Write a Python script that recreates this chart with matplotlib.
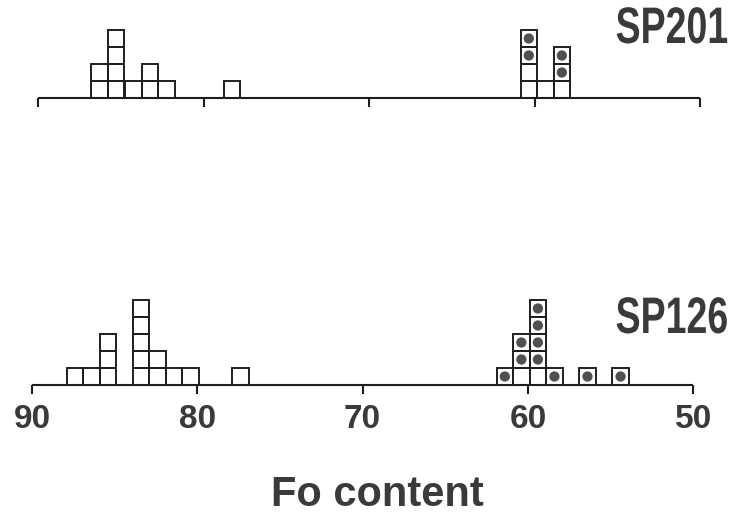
import matplotlib
matplotlib.use("Agg")
import matplotlib.pyplot as plt
from matplotlib import font_manager as fm
from matplotlib.patheffects import AbstractPathEffect
from matplotlib.transforms import Affine2D

# ---------------- data ----------------
# SP201 (top panel): bin centres (Fo) with counts of open / dotted boxes
sp201_fo = [86.3, 85.3, 84.25, 83.25, 82.25, 78.3, 60.35, 59.35, 58.35]
sp201_open = [2, 4, 1, 2, 1, 1, 2, 1, 1]
sp201_dot = [0, 0, 0, 0, 0, 0, 2, 0, 2]

# SP126 (bottom panel)
sp126_fo = [87.4, 86.4, 85.4, 83.4, 82.4, 81.4, 80.4, 77.4,
            61.4, 60.4, 59.4, 58.4, 56.4, 54.4]
sp126_open = [1, 1, 3, 5, 2, 1, 1, 1, 0, 1, 1, 0, 0, 0]
sp126_dot = [0, 0, 0, 0, 0, 0, 0, 0, 1, 2, 4, 1, 1, 1]

tick_values = [90, 80, 70, 60, 50]
tick_labels = ["90", "80", "70", "60", "50"]
xlabel = "Fo content"
titles = ["SP201", "SP126"]


def pick(fams, weight="bold"):
    for f in fams:
        try:
            fm.findfont(fm.FontProperties(family=f, weight=weight),
                        fallback_to_default=False)
            return f
        except Exception:
            pass
    return "DejaVu Sans"


sans = pick(["Liberation Sans", "DejaVu Sans"])


class Condense(AbstractPathEffect):
    """Squeeze glyphs horizontally about a pivot x (display pixels)."""

    def __init__(self, sx, x0):
        super().__init__()
        self.sx = sx
        self.x0 = x0

    def draw_path(self, renderer, gc, tpath, affine, rgbFace=None):
        a = affine + Affine2D().translate(-self.x0, 0).scale(self.sx, 1).translate(self.x0, 0)
        renderer.draw_path(gc, tpath, a, rgbFace)


W, H = 734, 515
fig = plt.figure(figsize=(W / 100, H / 100), dpi=100)
fig.patch.set_facecolor("white")

INK = "#1e1e1e"
TXT = "#3a3a3a"
DOT = "#505050"
BOX_PX = 17.0  # box height in pixels


def make_axes(x0, x1, base_y, top_y):
    ax = fig.add_axes([x0 / W, 1 - base_y / H, (x1 - x0) / W, (base_y - top_y) / H])
    ax.set_xlim(90, 50)
    ax.set_ylim(0, (base_y - top_y) / BOX_PX)
    for s in ["top", "left", "right"]:
        ax.spines[s].set_visible(False)
    ax.spines["bottom"].set_color(INK)
    ax.spines["bottom"].set_linewidth(1.5)
    ax.spines["bottom"].set_capstyle("butt")
    ax.set_yticks([])
    ax.set_xticks(tick_values)
    ax.tick_params(axis="x", direction="out", length=6.5, width=1.5, color=INK)
    ax.patch.set_alpha(0)
    return ax


def draw_boxes(ax, fo, n_open, n_dot):
    xs, bots, dx, dy = [], [], [], []
    for f, o, d in zip(fo, n_open, n_dot):
        for i in range(o + d):
            xs.append(f)
            bots.append(i)
            if i >= o:
                dx.append(f)
                dy.append(i + 0.5)
    ax.bar(xs, [1] * len(xs), bottom=bots, width=1.0, fill=False,
           edgecolor=INK, linewidth=1.4, clip_on=False)
    ax.scatter(dx, dy, s=55, color=DOT, edgecolors="none", zorder=3, clip_on=False)


ax1 = make_axes(38.3, 700, 98, 0)
ax1.set_xticklabels([])
draw_boxes(ax1, sp201_fo, sp201_open, sp201_dot)

ax2 = make_axes(32, 693.3, 385, 285)
ax2.set_xticklabels(tick_labels, fontsize=24, fontweight="bold", color=TXT,
                    family=sans)
ax2.tick_params(axis="x", pad=7)
draw_boxes(ax2, sp126_fo, sp126_open, sp126_dot)

fig.text(377 / W, 1 - 506 / H, xlabel, fontsize=30, fontweight="bold",
         color=TXT, family=sans, ha="center", va="baseline")

RIGHT_PX = 728
for title, base in zip(titles, [43, 333]):
    fig.text(RIGHT_PX / W, 1 - base / H, title, fontsize=37, fontweight="bold",
             color=TXT, family=sans, ha="right", va="baseline",
             path_effects=[Condense(0.73, RIGHT_PX)])

fig.savefig("out.png", dpi=100, facecolor="white")
